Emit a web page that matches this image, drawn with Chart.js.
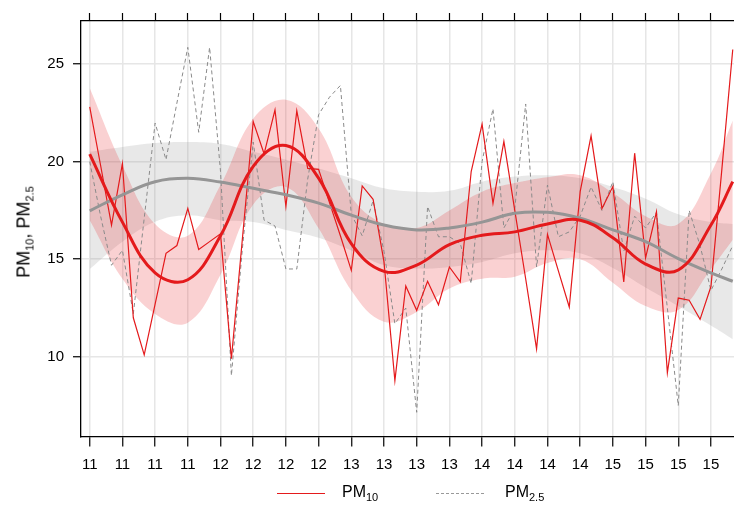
<!DOCTYPE html>
<html>
<head>
<meta charset="utf-8">
<script src="https://cdn.jsdelivr.net/npm/chart.js@4.4.1/dist/chart.umd.min.js"></script>
<style>
  html,body{margin:0;padding:0;background:#fff;overflow:hidden;width:734px;height:507px;}
  #wrap{position:relative;width:734px;height:507px;overflow:hidden;font-family:"Liberation Sans",Arial,sans-serif;}
  canvas{position:absolute;left:0;top:0;}
  .ytitle{position:absolute;left:24px;top:232px;transform:translate(-50%,-50%) rotate(-90deg);font-size:18px;white-space:nowrap;color:#000;}
  .leg{position:absolute;font-size:16px;color:#000;white-space:nowrap;}
  sub{font-size:11px;vertical-align:-4px;line-height:0;}
  .sw{position:absolute;width:48px;height:0;}
</style>
</head>
<body>
<div id="wrap">
  <canvas id="c" width="760" height="507"></canvas>
  <div class="ytitle">PM<sub>10</sub>, PM<sub>2.5</sub></div>
  <div class="sw" style="left:277px;top:493px;border-top:1.5px solid #e41a1c;"></div>
  <div class="leg" style="left:342px;top:483px;">PM<sub>10</sub></div>
  <div class="sw" style="left:436px;top:493px;border-top:1px dashed #999;"></div>
  <div class="leg" style="left:505px;top:483px;">PM<sub>2.5</sub></div>
</div>
<script>
// monthly values, Jan 2011 .. Dec 2015
const pm10 = [22.8,19.8,16.75,19.9,12.0,10.1,12.7,15.3,15.7,17.6,15.5,15.9,
  16.3,9.9,16.0,22.05,20.4,22.65,17.7,22.6,19.65,19.6,17.9,16.2,
  14.43,18.75,18.07,14.86,8.78,13.63,12.38,13.87,12.67,14.6,13.84,19.49,
  21.92,17.86,21.03,17.5,14.0,10.41,16.27,14.4,12.55,18.46,21.32,17.6,
  18.72,13.84,20.43,15.07,17.43,9.18,13.01,12.9,11.92,13.6,19.6,25.74];
const pm25 = [20.0,17.2,14.69,15.46,12.2,17.1,21.97,20.1,23.0,25.85,21.5,25.85,
  19.5,9.04,15.5,21.0,17.0,16.7,14.5,14.5,19.1,22.4,23.3,23.9,
  17.3,16.2,18.0,15.4,11.7,12.5,7.16,17.7,16.15,16.15,15.8,13.75,
  20.0,22.7,16.6,17.6,22.95,14.6,18.8,16.15,16.4,17.2,18.7,17.5,
  18.97,15.4,17.2,16.6,17.4,12.5,7.5,17.5,15.7,13.4,14.5,15.7];

// smoothed fits with confidence bands, read at quarterly points
const smoothMonths = [0,3,6,9,12,15,18,21,24,27,30,33,36,39,42,45,48,51,54,57,59];
const pm10Smooth = [20.38,16.9,14.3,13.95,16.2,19.75,20.82,19.15,15.8,14.38,14.7,15.75,16.23,16.4,16.8,17.0,16.1,14.75,14.45,16.75,18.97];
const pm10Upper  = [23.77,19.8,16.8,16.2,18.8,22.2,23.17,21.7,18.2,16.8,16.6,17.5,18.46,18.9,19.2,19.3,18.4,17.2,16.8,19.4,22.1];
const pm10Lower  = [17.0,14.0,12.2,11.75,14.2,17.8,18.7,16.58,13.4,11.8,12.3,13.5,14.0,14.1,14.8,15.0,13.8,12.6,12.4,14.5,16.0];
const pm25Smooth = [17.48,18.3,18.97,19.14,18.95,18.63,18.3,17.87,17.26,16.75,16.5,16.6,16.9,17.35,17.4,17.1,16.5,15.9,15.03,14.3,13.87];
const pm25Upper  = [20.5,20.75,20.95,21.0,20.9,20.5,20.1,19.65,19.15,18.63,18.46,18.5,18.97,19.23,19.3,19.14,18.7,18.1,17.3,16.9,16.8];
const pm25Lower  = [14.5,15.9,16.92,17.25,17.0,16.9,16.5,16.1,15.45,14.7,14.52,14.6,14.86,15.3,15.46,15.3,14.55,13.55,12.6,11.6,10.9];

const tickMonths = [0,3,6,9,12,15,18,21,24,27,30,33,36,39,42,45,48,51,54,57];
const tickLabels = ['11','11','11','11','12','12','12','12','13','13','13','13','14','14','14','14','15','15','15','15'];
const yTicks = [10,15,20,25];

const pts = arr => arr.map((v,i)=>({x:i, y:v}));
const spts = arr => arr.map((v,i)=>({x:smoothMonths[i], y:v}));

const RED = '#e41a1c';
const font = {family:'"Liberation Sans", Arial, sans-serif', size:15};

new Chart(document.getElementById('c'), {
  type:'line',
  data:{
    datasets:[
      {data:spts(pm10Smooth), borderColor:RED, borderWidth:3, tension:0.4, pointRadius:0, fill:false, order:0},
      {data:spts(pm25Smooth), borderColor:'#959595', borderWidth:3, tension:0.4, pointRadius:0, fill:false, order:1},
      {data:pts(pm10), borderColor:RED, borderWidth:1.2, tension:0, pointRadius:0, fill:false, order:2},
      {data:pts(pm25), borderColor:'#8a8a8a', borderWidth:1, borderDash:[4,3], tension:0, pointRadius:0, fill:false, order:3},
      {data:spts(pm10Upper), borderWidth:0, tension:0.4, pointRadius:0, fill:'+1', backgroundColor:'rgba(228,26,28,0.2)', order:4},
      {data:spts(pm10Lower), borderWidth:0, tension:0.4, pointRadius:0, fill:false, order:5},
      {data:spts(pm25Upper), borderWidth:0, tension:0.4, pointRadius:0, fill:'+1', backgroundColor:'rgba(150,150,150,0.22)', order:6},
      {data:spts(pm25Lower), borderWidth:0, tension:0.4, pointRadius:0, fill:false, order:7}
    ]
  },
  options:{
    responsive:false,
    animation:false,
    layout:{padding:0},
    plugins:{legend:{display:false}, tooltip:{enabled:false}},
    scales:{
      x:{
        type:'linear', position:'bottom', min:-0.8, max:61.5,
        afterBuildTicks:s=>{ s.ticks = tickMonths.map(v=>({value:v})); },
        afterFit:s=>{ s.height = 70.5; },
        grid:{color:'#e6e6e6', lineWidth:1.5, tickColor:'#000', tickWidth:1.2, tickLength:10},
        border:{color:'#000', width:1.3},
        ticks:{font, color:'#000', padding:9, maxRotation:0, autoSkip:false,
          callback:(v,i)=>tickLabels[i]}
      },
      x2:{
        type:'linear', position:'top', min:-0.8, max:61.5,
        afterBuildTicks:s=>{ s.ticks = tickMonths.map(v=>({value:v})); },
        afterFit:s=>{ s.height = 21; },
        grid:{drawOnChartArea:false, tickColor:'#000', tickWidth:1.2, tickLength:8},
        border:{color:'#000', width:1.3},
        ticks:{display:true, callback:()=> '', font:{size:1}}
      },
      y:{
        type:'linear', min:5.92, max:27.2,
        afterBuildTicks:s=>{ s.ticks = yTicks.map(v=>({value:v})); },
        afterFit:s=>{ s.width = 81; },
        grid:{color:'#e6e6e6', lineWidth:1.5, tickColor:'#000', tickWidth:1.2, tickLength:8},
        border:{color:'#000', width:1.3},
        ticks:{font, color:'#000', padding:9}
      }
    }
  }
});
</script>
</body>
</html>
